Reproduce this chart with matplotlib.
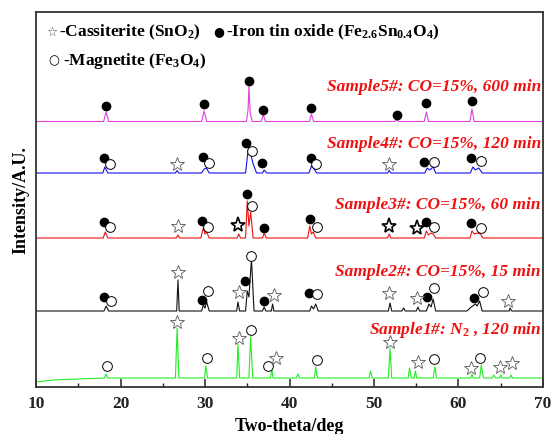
import matplotlib
matplotlib.use("Agg")
import matplotlib.pyplot as plt
from matplotlib.ticker import MultipleLocator

plt.rcParams['font.family'] = ['Liberation Serif', 'DejaVu Sans']
plt.rcParams['mathtext.fontset'] = 'custom'
plt.rcParams['mathtext.rm'] = 'Liberation Serif:bold'
plt.rcParams['mathtext.bf'] = 'Liberation Serif:bold'
plt.rcParams['mathtext.it'] = 'Liberation Serif:bold:italic'
plt.rcParams['mathtext.default'] = 'bf'

# ---------------- data (two-theta in deg, intensity in arbitrary units) ----------------
x5 = [10, 18.0, 18.3, 18.6, 29.6, 29.9, 30.2, 34.9, 35.1, 35.2, 35.35, 35.6, 36.65, 36.9, 37.15,
      42.35, 42.6, 42.85, 52.45, 52.7, 52.95, 55.95, 56.2, 56.45, 61.35, 61.6, 61.85, 70]
h5 = [0, 0, 9.5, 0, 0, 10.5, 0, 0, 12, 35.5, 8, 0, 0, 7, 0,
      0, 7.5, 0, 0, 2, 0, 0, 9.5, 0, 0, 12.5, 0, 0]

x4 = [10, 17.9, 18.15, 18.5, 26.5, 26.7, 26.9, 29.6, 29.9, 30.15, 30.5, 34.8, 35.1, 35.4, 35.7, 36.1,
      36.8, 37.0, 37.3, 42.3, 42.6, 42.85, 43.2, 51.6, 51.8, 52.0, 56.0, 56.3, 56.6, 57.0, 57.3,
      61.4, 61.7, 62.0, 62.4, 62.8, 70]
h4 = [0, 0, 6, 0, 0, 2.5, 0, 0, 4, 5, 0, 0, 23, 19, 9, 0,
      0, 3, 0, 0, 7, 5, 0, 0, 2.5, 0, 0, 5, 3, 6, 0,
      0, 6, 3, 5, 0, 0]

x3 = [10, 17.95, 18.2, 18.5, 26.6, 26.8, 27.0, 29.5, 29.8, 30.0, 30.2, 30.5, 33.8, 34.0, 34.2,
      34.8, 35.0, 35.2, 35.4, 35.7, 36.8, 37.0, 37.25, 42.15, 42.4, 42.6, 42.8, 43.1,
      51.6, 51.8, 52.0, 55.95, 56.2, 56.45, 56.7, 57.0, 57.3, 61.35, 61.6, 61.9, 62.2, 62.6, 62.9, 70]
h3 = [0, 0, 6, 0, 0, 3, 0, 0, 10, 4, 6, 0, 0, 4, 0,
      0, 37, 12, 26, 0, 0, 5, 0, 0, 12, 4, 6, 0,
      0, 4, 0, 0, 7, 3, 5, 4, 0, 0, 7, 4, 5, 4, 0, 0]

x2 = [10, 18.05, 18.3, 18.6, 26.65, 26.8, 26.95, 29.6, 29.8, 30.0, 30.2, 30.5, 33.75, 33.9, 34.1,
      34.8, 35.0, 35.2, 35.5, 35.8, 36.8, 37.0, 37.2, 37.85, 38.0, 38.15, 42.4, 42.6, 42.85, 43.1, 43.4,
      51.7, 51.9, 52.1, 53.3, 53.5, 53.7, 55.0, 55.2, 55.4, 56.2, 56.5, 56.75, 57.0, 57.3,
      61.0, 61.5, 62.0, 62.2, 62.5, 62.8, 66.0, 66.1, 66.3, 70]
h2 = [0, 0, 5, 0, 0, 31, 0, 0, 6, 3, 9, 0, 0, 9, 0,
      0, 20, 14, 52, 0, 0, 4, 0, 0, 7, 0, 0, 5, 2, 7, 0,
      0, 8, 0, 0, 3, 0, 0, 4, 0, 0, 7, 4, 12, 0,
      0, 4, 7, 5, 10, 0, 0, 3, 0, 0]

x1 = [10, 12, 15, 18.1, 18.3, 18.5, 26.5, 26.7, 26.9, 29.95, 30.1, 30.3, 33.75, 33.9, 34.1,
      35.2, 35.4, 35.65, 37.75, 37.9, 38.05, 40.8, 41.0, 41.2, 42.95, 43.1, 43.3, 49.4, 49.6, 49.8,
      51.7, 51.9, 52.1, 54.05, 54.2, 54.4, 54.75, 54.9, 55.05, 57.0, 57.2, 57.4, 61.45, 61.6, 61.75,
      62.5, 62.7, 62.95, 64.0, 64.2, 64.4, 64.85, 65.0, 65.15, 66.05, 66.2, 66.4, 70]
h1 = [-4, -2, -1, 0, 4, 0, 0, 50, 0, 0, 12, 0, 0, 34, 0,
      0, 41, 0, 0, 9, 0, 0, 4, 0, 0, 11, 0, 0, 7, 0,
      0, 30, 0, 0, 10, 0, 0, 7, 0, 0, 11, 0, 0, 4, 0,
      0, 13, 0, 0, 3, 0, 0, 3, 0, 0, 3, 0, 0]

# phase markers (two-theta, intensity on the same stacked axis)
dots_x = [18.3, 29.9, 35.2, 36.9, 42.6, 52.7, 56.2, 61.6,
          18.1, 29.8, 34.9, 36.8, 42.5, 55.9, 61.5,
          18.0, 29.7, 35.0, 37.0, 42.4, 56.1, 61.5,
          18.0, 29.7, 34.7, 37.0, 42.3, 56.3, 61.8]
dots_y = [281, 283, 306, 277, 279, 272, 284, 286,
          229, 230, 244, 224, 229, 225, 229,
          165, 166, 193, 159, 168, 165, 164,
          90, 87, 106, 86, 94, 90, 89]
circ_x = [18.7, 30.5, 35.6, 43.1, 57.1, 62.7,
          18.8, 30.4, 35.6, 43.3, 57.1, 62.7,
          18.9, 30.4, 35.5, 43.3, 57.1, 62.9,
          18.4, 30.2, 35.4, 37.5, 43.2, 57.1, 62.6]
circ_y = [223, 224, 236, 223, 225, 226,
          160, 160, 181, 160, 160, 159,
          86, 96, 131, 93, 99, 95,
          21, 29, 57, 21, 27, 28, 29]
star_x = [26.7, 51.8,
          26.8,
          26.8, 34.0, 38.2, 51.8, 55.1, 65.9,
          26.7, 34.0, 38.4, 51.9, 55.2, 61.5, 64.9, 66.3]
star_y = [223, 223,
          161,
          115, 95, 92, 94, 89, 86,
          65, 49, 29, 45, 25, 19, 20, 24]
bold_star_x = [33.9, 51.8, 55.1]
bold_star_y = [162, 161, 159]

labels = ['Sample5#: CO=15%, 600 min', 'Sample4#: CO=15%, 120 min',
          'Sample3#: CO=15%, 60 min', 'Sample2#: CO=15%, 15 min',
          r'Sample1#: N$_{\mathit{2}}$ , 120 min']
label_y = [301, 244, 183, 116, 58]
x_ticks = [10, 20, 30, 40, 50, 60, 70]

# ---------------- layout ----------------
series = [(x5, h5, 265.5, '#e040e0'), (x4, h4, 214, '#1010ee'), (x3, h3, 149, '#ee1010'),
          (x2, h2, 76, '#111111'), (x1, h1, 9, '#22ee22')]

fig = plt.figure(figsize=(5.53, 4.35), dpi=100)
ax = fig.add_axes([36/553, 1-388/435, 507/553, 375.5/435])

for xs, hs, off, col in series:
    ax.plot(xs, [h + off for h in hs], color=col, lw=0.8)

ax.plot(dots_x, dots_y, ls='none', marker='o', ms=6, mfc='black', mec='black', zorder=5)
ax.plot(circ_x, circ_y, ls='none', marker='o', ms=7, mfc='white', mec='black', mew=0.7, zorder=5)
ax.plot(star_x, star_y, ls='none', marker='*', ms=10, mfc='white', mec='#555555', mew=0.6, zorder=5)
ax.plot(bold_star_x, bold_star_y, ls='none', marker='*', ms=11, mfc='white', mec='black', mew=1.2, zorder=5)

for lab, ly in zip(labels, label_y):
    ax.text(69.75, ly, lab, color='#f01010', fontsize=12.5, fontweight='bold', fontstyle='italic',
            ha='right', va='center')

ax.text(0.021, 0.948, u'\u2606', transform=ax.transAxes, fontsize=9, color='#555555',
        ha='left', va='center', family=['DejaVu Sans'])
ax.text(0.046, 0.948, r'-Cassiterite (SnO$_2$)', transform=ax.transAxes, fontsize=12.5,
        fontweight='bold', ha='left', va='center')
ax.text(0.350, 0.948, u'\u25cf', transform=ax.transAxes, fontsize=9, color='black',
        ha='left', va='center', family=['DejaVu Sans'])
ax.text(0.374, 0.948, r'-Iron tin oxide (Fe$_{2.6}$Sn$_{0.4}$O$_4$)', transform=ax.transAxes,
        fontsize=12.5, fontweight='bold', ha='left', va='center')
ax.text(0.024, 0.871, u'\u25cb', transform=ax.transAxes, fontsize=9, color='black',
        ha='left', va='center', family=['DejaVu Sans'])
ax.text(0.054, 0.871, r'-Magnetite (Fe$_3$O$_4$)', transform=ax.transAxes, fontsize=12.5,
        fontweight='bold', ha='left', va='center')

ax.set_xlim(10, 70)
ax.set_ylim(0, 375.5)
ax.set_xticks(x_ticks)
ax.set_xticklabels([str(t) for t in x_ticks])
ax.xaxis.set_minor_locator(MultipleLocator(5))
ax.set_yticks([])
ax.tick_params(axis='x', which='major', direction='in', length=6, width=1.1, labelsize=12.5,
               pad=6, colors='#222222')
ax.tick_params(axis='x', which='minor', direction='in', length=3, width=1.0, colors='#222222')
for lab in ax.get_xticklabels():
    lab.set_fontweight('bold')
for sp in ax.spines.values():
    sp.set_linewidth(1.3)
    sp.set_color('#333333')

ax.set_xlabel('Two-theta/deg', fontsize=13, fontweight='bold', labelpad=4)
ax.set_ylabel('Intensity/A.U.', fontsize=13, fontweight='bold', labelpad=5)

fig.savefig('out.png', dpi=100)
